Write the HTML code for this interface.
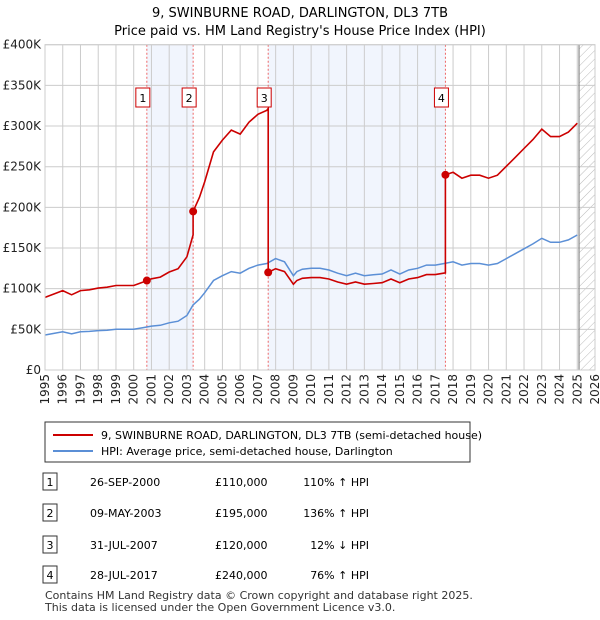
<!DOCTYPE html>
<html><head><meta charset="utf-8"><style>
body{margin:0;background:#fff;font-family:"Liberation Sans",sans-serif;}
#wrap{position:relative;width:600px;height:620px;overflow:hidden;}
.t{font-family:"DejaVu Sans","Liberation Sans",sans-serif;}
</style></head><body><div id="wrap">
<svg id="svg" width="600" height="620" xmlns="http://www.w3.org/2000/svg">
<defs><pattern id="hatch" width="6" height="6" patternUnits="userSpaceOnUse" patternTransform="rotate(45)"><line x1="0" y1="0" x2="0" y2="6" stroke="#bbb" stroke-width="1"/></pattern></defs>
<text class="t" x="300" y="17" text-anchor="middle" font-size="13">9, SWINBURNE ROAD, DARLINGTON, DL3 7TB</text>
<text class="t" x="300" y="35" text-anchor="middle" font-size="13">Price paid vs. HM Land Registry's House Price Index (HPI)</text>
<g id="plot"></g>
</svg>
</div>
<script>
const hpiYears=[1995,1995.5,1996,1996.5,1997,1997.5,1998,1998.5,1999,1999.5,2000,2000.5,2001,2001.5,2002,2002.5,2003,2003.35,2003.7,2004,2004.5,2005,2005.5,2006,2006.5,2007,2007.5,2008,2008.5,2009,2009.2,2009.5,2010,2010.5,2011,2011.5,2012,2012.5,2013,2013.5,2014,2014.5,2015,2015.5,2016,2016.5,2017,2017.5,2018,2018.5,2019,2019.5,2020,2020.5,2021,2021.5,2022,2022.5,2023,2023.5,2024,2024.5,2025];
const hpiValues=[43,45,47,44.5,47,47.5,48.5,49,50,50,50,52,54,55,58,60,67,80,87,95,110,116,121,119,125,129,131,137,133,116,121,124,125,125,123,119,116,119,116,117,118,123,118,123,125,129,129,131,133,129,131,131,129,131,137,143,149,155,162,157,157,160,166];
const saleLabels=["1","2","3","4"];
const saleYears=[2000.74,2003.35,2007.58,2017.57];
const salePrices=[110000,195000,120000,240000];
const yTicks=[0,50000,100000,150000,200000,250000,300000,350000,400000];
const yTickLabels=["£0","£50K","£100K","£150K","£200K","£250K","£300K","£350K","£400K"];
const xTicks=[1995,1996,1997,1998,1999,2000,2001,2002,2003,2004,2005,2006,2007,2008,2009,2010,2011,2012,2013,2014,2015,2016,2017,2018,2019,2020,2021,2022,2023,2024,2025,2026];
const saleDates=["26-SEP-2000","09-MAY-2003","31-JUL-2007","28-JUL-2017"];
const salePriceText=["£110,000","£195,000","£120,000","£240,000"];
const saleHpiText=["110% ↑ HPI","136% ↑ HPI","12% ↓ HPI","76% ↑ HPI"];

const X0=45,X1=595,Y0=370,Y1=44.7;
const sx=y=>X0+(y-1995)*(X1-X0)/31;
const sy=v=>Y0-v*(Y0-Y1)/400000;
const NS="http://www.w3.org/2000/svg";
const g=document.getElementById('plot');
function mk(tag,attrs,parent){const e=document.createElementNS(NS,tag);for(const k in attrs)e.setAttribute(k,attrs[k]);(parent||g).appendChild(e);return e;}
function hpiAt(y){for(let i=0;i<hpiYears.length-1;i++){if(y<=hpiYears[i+1]){const t=(y-hpiYears[i])/(hpiYears[i+1]-hpiYears[i]);return (hpiValues[i]+t*(hpiValues[i+1]-hpiValues[i]))*1000;}}return hpiValues[hpiValues.length-1]*1000;}

for(let i=0;i<saleYears.length;i+=2){
  const r=mk('rect',{x:sx(saleYears[i]),y:Y1,width:sx(saleYears[i+1])-sx(saleYears[i]),height:Y0-Y1,fill:'#eef3fd',opacity:0.8});
  
  
}
const hr=mk('rect',{x:sx(2025.1),y:Y1,width:X1-sx(2025.1),height:Y0-Y1,fill:'url(#hatch)'});


yTicks.forEach((v,i)=>{
  const l=mk('line',{x1:X0,x2:X1,y1:sy(v),y2:sy(v),stroke:'#ccc','stroke-width':1});
  
  
  const t=mk('text',{x:X0-4,y:sy(v)+4,'text-anchor':'end','font-size':12,class:'t',fill:'#222'});
  t.textContent=yTickLabels[i];
  
  
});
xTicks.forEach(y=>{
  const l=mk('line',{x1:sx(y),x2:sx(y),y1:Y1,y2:Y0,stroke:'#ccc','stroke-width':1});
  
  
  const t=mk('text',{x:0,y:0,'text-anchor':'end','font-size':12,class:'t',fill:'#222',transform:`translate(${sx(y)+4},${Y0+4}) rotate(-90)`});
  t.textContent=y;
  
  
});
const vl=mk('line',{x1:sx(2025.1),x2:sx(2025.1),y1:Y1,y2:Y0,stroke:'#888','stroke-width':1.2});


saleYears.forEach(y=>{
  const l=mk('line',{x1:sx(y),x2:sx(y),y1:Y1,y2:Y0,stroke:'#e66','stroke-width':1,'stroke-dasharray':'2,2'});
  
  
});
let d='';hpiYears.forEach((y,i)=>{d+=(i?'L':'M')+sx(y).toFixed(1)+','+sy(hpiValues[i]*1000).toFixed(1);});
const hp=mk('path',{d,fill:'none',stroke:'#5b8fd6','stroke-width':1.5});


let rd='';
const pts=[...hpiYears,...saleYears].sort((a,b)=>a-b);
function factorFor(y){let k=0;for(let i=0;i<saleYears.length;i++){if(y>=saleYears[i])k=i;}
  return salePrices[k]/hpiAt(saleYears[k]);}
let first=true;
pts.forEach(y=>{
  let segs=[factorFor(y)];
  const si=saleYears.indexOf(y);
  if(si>0)segs=[salePrices[si-1]/hpiAt(saleYears[si-1]),salePrices[si]/hpiAt(y)];
  segs.forEach(f=>{rd+=(first?'M':'L')+sx(y).toFixed(1)+','+sy(hpiAt(y)*f).toFixed(1);first=false;});
});
const rp=mk('path',{d:rd,fill:'none',stroke:'#cc0000','stroke-width':1.6});


saleYears.forEach((y,i)=>{
  const p=mk('circle',{cx:sx(y),cy:sy(salePrices[i]),r:4,fill:'#cc0000'});
  
  
  const bx=sx(y)-4;
  const b=mk('rect',{x:bx-7,y:88,width:14,height:19,fill:'#fff',stroke:'#c00','stroke-width':1});
  
  
  const t=mk('text',{x:bx,y:102,'text-anchor':'middle','font-size':11,class:'t'});
  t.textContent=saleLabels[i];
  
  
});
const ax=mk('rect',{x:X0,y:Y1,width:X1-X0,height:Y0-Y1,fill:'none',stroke:'#ccc'});



const lg=mk('g',{});


mk('rect',{x:45,y:422,width:425,height:40,fill:'#fff',stroke:'#333'},lg);
mk('line',{x1:53,x2:93,y1:435,y2:435,stroke:'#cc0000','stroke-width':2},lg);
mk('line',{x1:53,x2:93,y1:451,y2:451,stroke:'#5b8fd6','stroke-width':2},lg);
const l1=mk('text',{x:101,y:439,'font-size':11,class:'t'},lg);l1.textContent="9, SWINBURNE ROAD, DARLINGTON, DL3 7TB (semi-detached house)";


const l2=mk('text',{x:101,y:455,'font-size':11,class:'t'},lg);l2.textContent="HPI: Average price, semi-detached house, Darlington";



const rowY=[482,513,545,575];
saleLabels.forEach((s,i)=>{
  const y=rowY[i];
  const r=mk('g',{});
  
  
  mk('rect',{x:43,y:y-9,width:14,height:17,fill:'#fff',stroke:'#333'},r);
  const a=mk('text',{x:50,y:y+4,'text-anchor':'middle','font-size':11,class:'t'},r);a.textContent=s;
  const b=mk('text',{x:90,y:y+4,'font-size':11,class:'t'},r);b.textContent=saleDates[i];
  const c=mk('text',{x:215,y:y+4,'font-size':11,class:'t'},r);c.textContent=salePriceText[i];
  const e=mk('text',{x:369,y:y+4,'text-anchor':'end','font-size':11,class:'t'},r);e.textContent=saleHpiText[i];
});
const f1=mk('text',{x:45,y:599,'font-size':11,class:'t',fill:'#333'});f1.textContent="Contains HM Land Registry data © Crown copyright and database right 2025.";


const f2=mk('text',{x:45,y:611,'font-size':11,class:'t',fill:'#333'});f2.textContent="This data is licensed under the Open Government Licence v3.0.";


</script></body></html>
